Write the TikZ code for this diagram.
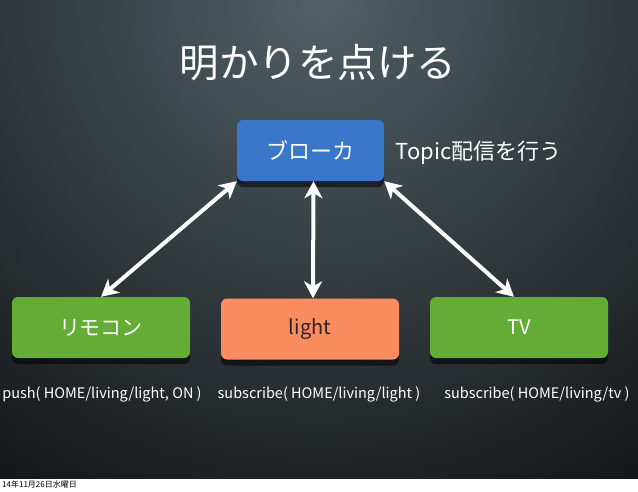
\documentclass[tikz,border=0pt]{standalone}
\usepackage{fontspec}
\setmainfont{Noto Sans CJK JP}
\usetikzlibrary{arrows.meta}
\usetikzlibrary{shadows}

\definecolor{brokerblue}{RGB}{58,118,201}
\definecolor{clientgreen}{RGB}{100,172,53}
\definecolor{lampsalmon}{RGB}{250,140,96}
\definecolor{slidetop}{RGB}{80,96,102}
\definecolor{slideedge}{RGB}{20,21,23}

\begin{document}
\begin{tikzpicture}[x=1pt,y=-1pt,
    box/.style={rounded corners=6pt, minimum width=178pt, minimum height=61pt, inner sep=0pt,
      drop shadow={shadow xshift=0pt, shadow yshift=-6pt, fill=black, opacity=0.55}},
    biarrow/.style={draw=white, line width=4pt,
      {Stealth[length=17pt,width=18pt,inset=5pt]}-{Stealth[length=17pt,width=18pt,inset=5pt]}},
    cmdtext/.style={text=white, font=\fontsize{14.5}{16}\selectfont}]

      \useasboundingbox (0,0) rectangle (638,491);
      \fill[color=white] (0,0) rectangle (638,491);

      % slide background
      \begin{scope}
        \clip (0,0) rectangle (638,478);
        \fill[color=slideedge] (0,0) rectangle (638,478);
        \shade[inner color=slidetop, outer color=slideedge] (320,0) circle[radius=580pt];
      \end{scope}

      \node[text=white, font=\fontsize{39.5}{41}\selectfont] (title) at (318,63) {明かりを点ける};

      \node[box, fill=brokerblue, minimum width=147pt, text=white, font=\fontsize{22}{24}\selectfont] (broker) at (310.5,150.5) {ブローカ};
      \node[anchor=west, text=white, font=\fontsize{22}{24}\selectfont] (topic) at (392,153) {Topic配信を行う};

      \node[box, fill=clientgreen, text=white, font=\fontsize{21}{23}\selectfont] (remote) at (101,327.5) {リモコン};
      \node[box, fill=lampsalmon, text=black!85, font=\fontsize{20}{22}\selectfont] (light) at (310,329) {light};
      \node[box, fill=clientgreen, text=white, font=\fontsize{20}{22}\selectfont] (tv) at (519,327.5) {TV};

      \draw[biarrow] (broker.south west) -- (remote.north);
      \draw[biarrow] ([xshift=3pt]broker.south) -- ([xshift=3pt]light.north);
      \draw[biarrow] (broker.south east) -- ([xshift=-5pt]tv.north);

      \node[cmdtext] (pushcmd) at (102,394) {push( HOME/living/light, ON )};
      \node[cmdtext] (lightcmd) at (319,394) {subscribe( HOME/living/light )};
      \node[cmdtext] (tvcmd) at (537,394) {subscribe( HOME/living/tv )};

      \node[anchor=west, inner sep=0pt, font=\fontsize{8}{9}\selectfont] (date) at (2,484) {14年11月26日水曜日};
    \end{tikzpicture}
\end{document}
